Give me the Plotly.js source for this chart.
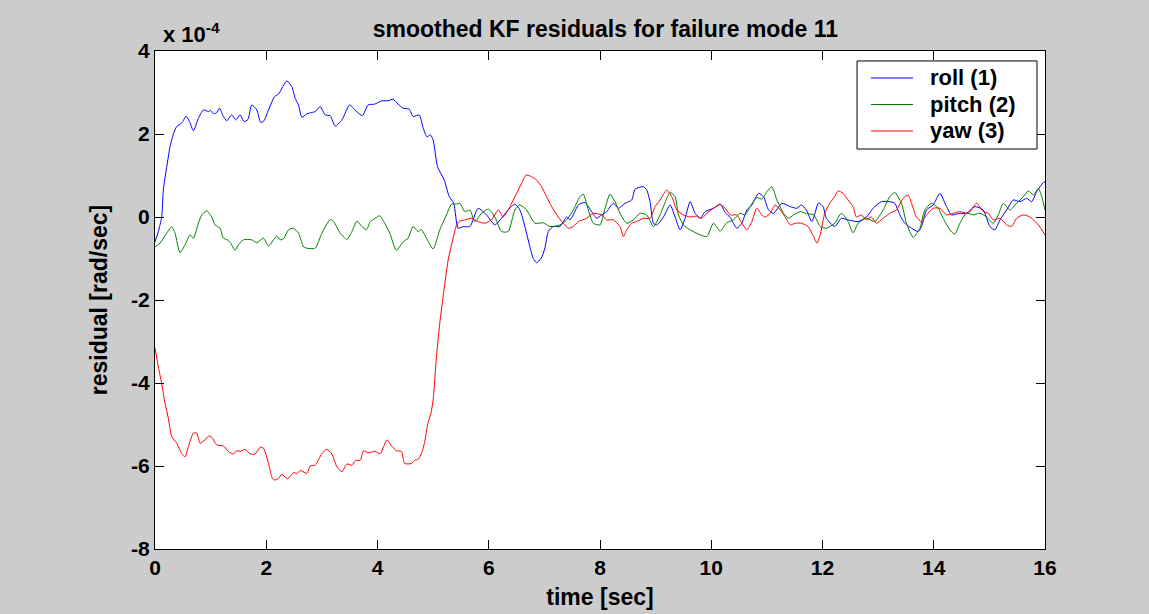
<!DOCTYPE html>
<html>
<head>
<meta charset="utf-8">
<script src="https://cdn.plot.ly/plotly-3.0.1.min.js"></script>
<style>
  html, body { margin: 0; padding: 0; background: #cccccc; }
  #chart { width: 1149px; height: 614px; }
</style>
</head>
<body>
<div id="chart"></div>
<script>
// values are in units of 1e-4 rad/sec (axis multiplier "x 10^-4")
const rollT = [0.00,0.06,0.12,0.15,0.21,0.27,0.33,0.39,0.48,0.56,0.62,0.69,0.78,0.87,0.96,1.00,1.04,1.10,1.16,1.22,1.29,1.38,1.45,1.53,1.60,1.67,1.74,1.83,1.90,1.96,2.04,2.15,2.22,2.30,2.37,2.46,2.52,2.58,2.64,2.72,2.79,2.88,2.97,3.06,3.15,3.24,3.36,3.50,3.61,3.73,3.83,3.95,4.08,4.19,4.28,4.37,4.46,4.57,4.64,4.75,4.82,4.89,4.95,5.00,5.08,5.20,5.29,5.37,5.45,5.54,5.66,5.81,5.96,6.11,6.23,6.35,6.47,6.56,6.65,6.74,6.80,6.86,6.94,7.01,7.07,7.16,7.28,7.40,7.46,7.52,7.61,7.73,7.85,7.94,8.03,8.12,8.24,8.33,8.45,8.57,8.63,8.78,8.84,8.90,8.96,9.02,9.14,9.26,9.35,9.44,9.53,9.62,9.71,9.80,9.89,10.04,10.16,10.25,10.34,10.46,10.55,10.64,10.73,10.85,10.94,11.03,11.12,11.27,11.42,11.54,11.62,11.71,11.81,11.93,12.01,12.07,12.22,12.34,12.46,12.64,12.79,12.91,13.06,13.21,13.30,13.39,13.48,13.60,13.72,13.78,13.87,13.99,14.11,14.23,14.32,14.47,14.59,14.74,14.89,15.01,15.10,15.19,15.31,15.43,15.55,15.67,15.76,15.85,15.97,16.00];
const rollV = [-0.60,-0.35,0.00,0.65,1.20,1.69,2.00,2.18,2.26,2.43,2.30,2.08,2.38,2.58,2.54,2.57,2.50,2.50,2.62,2.45,2.32,2.46,2.34,2.46,2.30,2.35,2.70,2.58,2.28,2.32,2.58,2.90,2.96,3.15,3.28,3.14,2.86,2.70,2.40,2.48,2.51,2.54,2.66,2.46,2.44,2.19,2.34,2.70,2.56,2.44,2.70,2.72,2.80,2.80,2.84,2.72,2.62,2.60,2.42,2.46,2.15,1.93,1.98,1.86,1.21,0.89,0.49,0.33,-0.27,-0.23,-0.23,0.21,0.05,-0.19,-0.03,0.17,0.31,0.17,-0.23,-0.72,-1.00,-1.10,-1.00,-0.75,-0.35,-0.23,-0.23,0.00,-0.07,0.05,0.29,0.35,0.13,-0.03,0.05,0.13,0.33,0.21,0.33,0.41,0.67,0.73,0.65,0.37,-0.15,-0.19,0.00,0.29,0.00,-0.31,-0.03,0.37,0.09,-0.03,0.13,0.21,0.31,0.11,-0.01,-0.27,-0.15,0.17,0.29,0.57,0.49,0.17,0.09,0.33,0.25,0.21,0.29,0.17,-0.11,0.34,0.25,-0.03,-0.23,-0.03,-0.07,-0.11,0.00,0.21,0.37,0.37,0.33,0.05,-0.15,-0.27,-0.35,-0.23,0.17,0.29,0.57,0.25,0.05,0.09,0.09,0.25,0.17,-0.23,-0.31,-0.07,0.17,0.41,0.37,0.45,0.37,0.61,0.83,0.85];

const pitchT = [0.00,0.09,0.21,0.30,0.36,0.45,0.54,0.63,0.69,0.78,0.84,0.93,1.02,1.08,1.17,1.23,1.30,1.36,1.44,1.50,1.59,1.74,1.83,1.95,2.04,2.19,2.25,2.32,2.40,2.49,2.58,2.67,2.72,2.88,3.00,3.15,3.21,3.33,3.45,3.54,3.63,3.72,3.80,3.87,3.96,4.04,4.13,4.22,4.34,4.46,4.55,4.64,4.73,4.79,4.88,5.00,5.12,5.24,5.33,5.42,5.48,5.57,5.66,5.75,5.87,5.99,6.11,6.23,6.35,6.47,6.56,6.68,6.83,6.98,7.10,7.28,7.40,7.52,7.64,7.70,7.79,7.88,8.00,8.09,8.18,8.27,8.36,8.48,8.60,8.72,8.84,8.96,9.08,9.20,9.26,9.35,9.41,9.50,9.62,9.80,9.92,10.04,10.16,10.28,10.40,10.52,10.61,10.70,10.82,10.91,11.00,11.09,11.18,11.30,11.39,11.48,11.60,11.69,11.84,11.96,12.07,12.22,12.34,12.46,12.55,12.64,12.79,12.94,13.09,13.21,13.30,13.42,13.51,13.63,13.75,13.84,13.96,14.08,14.17,14.29,14.38,14.47,14.59,14.71,14.83,14.95,15.07,15.16,15.25,15.37,15.49,15.61,15.70,15.79,15.88,15.95,16.00];
const pitchV = [-0.72,-0.63,-0.39,-0.23,-0.39,-0.86,-0.67,-0.43,-0.51,-0.15,0.05,0.15,0.00,-0.19,-0.27,-0.51,-0.55,-0.63,-0.80,-0.67,-0.55,-0.55,-0.62,-0.51,-0.70,-0.46,-0.55,-0.51,-0.31,-0.27,-0.39,-0.72,-0.75,-0.75,-0.39,-0.06,-0.11,-0.39,-0.54,-0.35,-0.10,-0.23,-0.31,-0.11,-0.03,0.03,-0.15,-0.39,-0.80,-0.60,-0.51,-0.23,-0.35,-0.30,-0.51,-0.77,-0.31,0.05,0.31,0.31,0.33,0.13,0.17,-0.11,0.09,0.19,0.00,-0.35,-0.35,0.17,0.29,0.17,-0.15,-0.14,-0.23,-0.19,-0.07,0.17,0.49,0.55,0.17,-0.15,-0.19,0.21,0.55,0.37,0.09,-0.15,-0.07,0.09,0.05,-0.23,0.05,0.45,0.59,0.49,0.05,-0.19,-0.31,-0.43,-0.47,-0.15,-0.34,-0.14,-0.07,0.09,0.05,0.25,0.47,0.43,0.61,0.73,0.41,0.09,-0.03,0.05,0.13,0.09,0.05,-0.23,-0.27,-0.15,0.09,-0.11,-0.38,-0.15,-0.03,-0.11,0.17,0.49,0.59,0.33,-0.15,-0.49,-0.27,0.17,0.33,0.21,-0.03,-0.31,-0.41,-0.15,0.09,0.05,0.09,0.00,-0.15,0.05,0.33,0.17,0.33,0.49,0.63,0.53,0.69,0.45,0.17];

const yawT = [0.00,0.06,0.12,0.18,0.24,0.30,0.39,0.48,0.54,0.60,0.69,0.75,0.81,0.90,0.96,1.02,1.11,1.23,1.32,1.41,1.47,1.53,1.62,1.71,1.80,1.89,1.95,2.04,2.10,2.14,2.22,2.28,2.38,2.49,2.55,2.62,2.73,2.79,2.88,3.00,3.09,3.18,3.27,3.36,3.45,3.54,3.60,3.69,3.75,3.83,3.96,4.05,4.17,4.26,4.34,4.43,4.49,4.61,4.67,4.73,4.79,4.85,4.90,4.96,5.00,5.06,5.12,5.18,5.27,5.36,5.42,5.48,5.57,5.69,5.81,5.93,6.05,6.17,6.26,6.38,6.50,6.59,6.67,6.77,6.86,6.95,7.04,7.13,7.25,7.34,7.43,7.52,7.61,7.76,7.88,8.03,8.12,8.24,8.36,8.42,8.48,8.57,8.66,8.78,8.90,8.99,9.08,9.20,9.29,9.38,9.50,9.62,9.74,9.83,9.92,10.04,10.16,10.25,10.34,10.46,10.55,10.64,10.73,10.82,10.91,10.97,11.06,11.15,11.24,11.33,11.42,11.51,11.62,11.74,11.84,11.90,11.96,12.04,12.13,12.22,12.28,12.37,12.46,12.55,12.61,12.70,12.79,12.88,12.97,13.09,13.21,13.33,13.45,13.54,13.60,13.69,13.78,13.87,13.99,14.11,14.23,14.35,14.47,14.62,14.77,14.89,14.98,15.07,15.19,15.31,15.40,15.49,15.61,15.73,15.88,16.00];
const yawV = [-3.16,-3.61,-4.01,-4.49,-4.85,-5.29,-5.45,-5.70,-5.78,-5.53,-5.21,-5.21,-5.45,-5.37,-5.28,-5.31,-5.49,-5.52,-5.65,-5.71,-5.63,-5.65,-5.60,-5.71,-5.71,-5.55,-5.57,-5.94,-6.26,-6.34,-6.30,-6.20,-6.31,-6.16,-6.18,-6.11,-6.18,-6.00,-5.98,-5.70,-5.60,-5.71,-6.02,-6.14,-5.95,-5.98,-5.87,-5.86,-5.63,-5.68,-5.65,-5.70,-5.37,-5.53,-5.63,-5.65,-5.94,-5.94,-5.86,-5.84,-5.70,-5.41,-5.01,-4.73,-4.41,-3.37,-2.56,-1.92,-1.04,-0.51,-0.20,-0.10,-0.07,-0.03,-0.11,-0.15,-0.07,0.17,0.00,0.25,0.57,0.81,1.01,0.97,0.89,0.73,0.49,0.25,0.00,-0.15,-0.27,-0.23,-0.11,-0.03,0.09,0.05,-0.07,-0.07,-0.23,-0.47,-0.31,-0.15,-0.11,-0.03,-0.03,0.25,0.41,0.65,0.49,0.17,0.05,0.00,0.02,-0.03,0.09,0.21,0.30,0.21,0.05,0.05,-0.15,-0.31,-0.11,0.21,0.05,0.00,0.09,0.29,0.17,0.00,-0.19,-0.15,-0.15,-0.23,-0.47,-0.63,-0.43,0.09,0.33,0.49,0.63,0.57,0.41,0.25,0.00,0.05,-0.07,0.00,-0.15,-0.03,0.09,0.17,0.45,0.53,0.33,0.00,-0.11,0.05,0.21,0.21,0.05,0.09,0.13,0.09,0.33,0.13,0.09,-0.07,-0.03,-0.19,-0.23,-0.03,0.05,0.00,-0.19,-0.43];

const seriesNames = ['roll (1)', 'pitch (2)', 'yaw (3)'];
const seriesColors = ['#0000ff', '#008000', '#ff0000'];
const xTicks = [0, 2, 4, 6, 8, 10, 12, 14, 16];
const yTicks = [-8, -6, -4, -2, 0, 2, 4];

const FONT = 'Liberation Sans, Arial, sans-serif';
const mk = (x, y, i) => ({
  x: x, y: y, type: 'scatter', mode: 'lines', name: seriesNames[i], showlegend: false,
  line: { color: seriesColors[i], width: 1, shape: 'spline', smoothing: 0.6 }
});
const data = [mk(rollT, rollV, 0), mk(pitchT, pitchV, 1), mk(yawT, yawV, 2)];

const axisCommon = {
  showline: true, linecolor: '#000', linewidth: 1, mirror: 'ticks',
  ticks: 'inside', ticklen: 9, tickwidth: 1, tickcolor: '#000',
  showgrid: false, zeroline: false,
  tickfont: { family: FONT, size: 21, color: '#000', weight: 'bold' }
};

// MATLAB-style legend box (paper coordinates)
const legBox = { x0: 0.7888, x1: 0.991, y0: 0.8032, y1: 0.98 };
const legRows = [0.9458, 0.8926, 0.8394];
const legLine = { x0: 0.8045, x1: 0.8517 };
const legTextX = 0.8685;

const shapes = [{
  type: 'rect', xref: 'paper', yref: 'paper',
  x0: legBox.x0, x1: legBox.x1, y0: legBox.y0, y1: legBox.y1,
  fillcolor: '#ffffff', line: { color: '#000', width: 1 }, layer: 'above'
}];
const annotations = [{
  text: 'x 10<sup>-4</sup>', xref: 'paper', yref: 'paper', x: 0, y: 1,
  xanchor: 'left', yanchor: 'bottom', xshift: 6, yshift: 2, showarrow: false,
  font: { family: FONT, size: 22, color: '#000', weight: 'bold' }
}];
seriesNames.forEach((nm, i) => {
  shapes.push({
    type: 'line', xref: 'paper', yref: 'paper',
    x0: legLine.x0, x1: legLine.x1, y0: legRows[i], y1: legRows[i],
    line: { color: seriesColors[i], width: 1 }, layer: 'above'
  });
  annotations.push({
    text: nm, xref: 'paper', yref: 'paper', x: legTextX, y: legRows[i],
    xanchor: 'left', yanchor: 'middle', showarrow: false,
    font: { family: FONT, size: 22, color: '#000', weight: 'bold' }
  });
});

const layout = {
  width: 1149, height: 614,
  paper_bgcolor: '#cccccc', plot_bgcolor: '#ffffff',
  margin: { l: 155, r: 104, t: 51, b: 65, pad: 0 },
  showlegend: false,
  title: { text: 'smoothed KF residuals for failure mode 11', x: 0.506, xref: 'paper', y: 0.953, yanchor: 'middle',
           font: { family: FONT, size: 23, color: '#000', weight: 'bold' } },
  xaxis: Object.assign({}, axisCommon, {
    range: [0, 16], tickvals: xTicks, ticktext: xTicks.map(String),
    title: { text: 'time [sec]', standoff: 10, font: { family: FONT, size: 23, color: '#000', weight: 'bold' } }
  }),
  yaxis: Object.assign({}, axisCommon, {
    range: [-8, 4], tickvals: yTicks, ticktext: yTicks.map(String),
    title: { text: 'residual [rad/sec]', standoff: 17, font: { family: FONT, size: 23, color: '#000', weight: 'bold' } }
  }),
  shapes: shapes,
  annotations: annotations
};

Plotly.newPlot('chart', data, layout, { staticPlot: true, displayModeBar: false });
</script>
</body>
</html>
